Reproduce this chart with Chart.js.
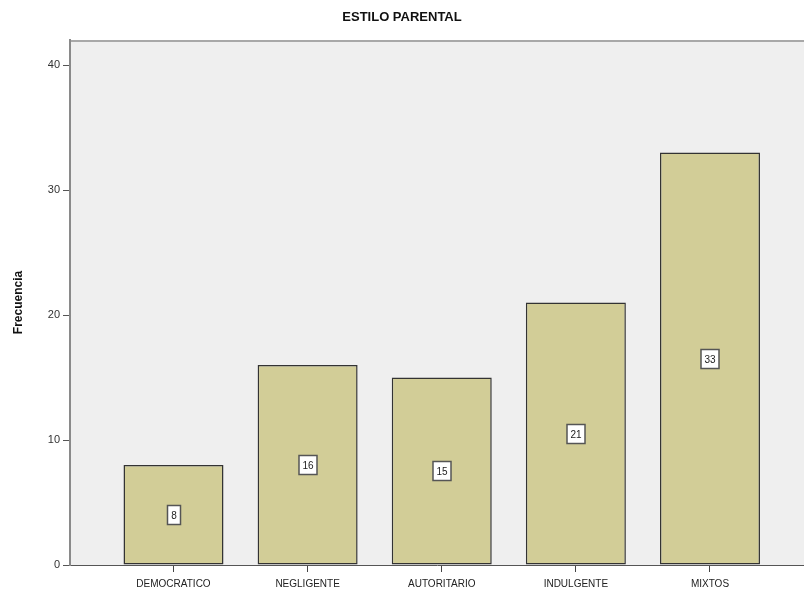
<!DOCTYPE html>
<html>
<head>
<meta charset="utf-8">
<title>Estilo parental</title>
<script src="https://cdn.jsdelivr.net/npm/chart.js@4/dist/chart.umd.min.js"></script>
<style>
    html, body { margin: 0; padding: 0; background: #ffffff; }
    #wrap { width: 804px; height: 592px; }
</style>
</head>
<body>
<div id="wrap"><canvas id="estilo-chart"></canvas></div>
<script>
// Frequency of each parenting style
const categories = ['DEMOCRATICO', 'NEGLIGENTE', 'AUTORITARIO', 'INDULGENTE', 'MIXTOS'];
const frecuencias = [8, 16, 15, 21, 33];
const yTicks = [0, 10, 20, 30, 40];

const FONT = '"Liberation Sans", Arial, sans-serif';

// Grey panel behind the bars plus the top frame line
const panelPlugin = {
    id: 'panel',
    beforeDraw(chart) {
        const { ctx, chartArea: a } = chart;
        ctx.save();
        ctx.fillStyle = '#efefef';
        ctx.fillRect(a.left, a.top, a.right - a.left, a.bottom - a.top);
        ctx.strokeStyle = '#a8a8a8';
        ctx.lineWidth = 2;
        ctx.beginPath();
        ctx.moveTo(a.left, a.top + 1);
        ctx.lineTo(a.right, a.top + 1);
        ctx.stroke();
        ctx.restore();
    }
};

// Boxed value label in the middle of every bar
const valueBoxPlugin = {
    id: 'valueBox',
    afterDatasetsDraw(chart) {
        const { ctx } = chart;
        const meta = chart.getDatasetMeta(0);
        ctx.save();
        ctx.font = '10px ' + FONT;
        ctx.textAlign = 'center';
        ctx.textBaseline = 'middle';
        meta.data.forEach((bar, i) => {
            const text = String(frecuencias[i]);
            const cx = Math.round(bar.x);
            const cy = Math.round((bar.y + bar.base) / 2);
            const w = Math.round(ctx.measureText(text).width) + 7;
            const h = 19;
            ctx.fillStyle = '#ffffff';
            ctx.fillRect(cx - w / 2, cy - h / 2, w, h);
            ctx.strokeStyle = '#555555';
            ctx.lineWidth = 1.5;
            ctx.strokeRect(cx - w / 2, cy - h / 2, w, h);
            ctx.fillStyle = '#222222';
            ctx.fillText(text, cx, cy + 1);
        });
        ctx.restore();
    }
};

const ctx = document.getElementById('estilo-chart').getContext('2d');
new Chart(ctx, {
    type: 'bar',
    data: {
        datasets: [{
            label: 'Frecuencia',
            data: frecuencias.map((v, i) => ({ x: i + 1, y: v })),
            backgroundColor: '#d2cd97',
            borderColor: '#333333',
            borderWidth: 1.5,
            borderSkipped: false,
            categoryPercentage: 1,
            barPercentage: 0.7456
        }]
    },
    options: {
        responsive: true,
        maintainAspectRatio: false,
        animation: false,
        layout: { padding: { top: 0, right: 0, bottom: -4, left: 0 } },
        plugins: {
            legend: { display: false },
            tooltip: { enabled: false },
            title: {
                display: true,
                text: 'ESTILO PARENTAL',
                color: '#111111',
                font: { family: FONT, size: 13, weight: 'bold' },
                padding: { top: 10, bottom: 14.4 }
            }
        },
        scales: {
            x: {
                type: 'linear',
                offset: false,
                min: 0.2283,
                max: 5.701,
                afterBuildTicks(scale) {
                    scale.ticks = categories.map((c, i) => ({ value: i + 1 }));
                },
                grid: {
                    offset: false,
                    drawOnChartArea: false,
                    drawTicks: true,
                    tickLength: 7,
                    color: '#444444',
                    lineWidth: 1
                },
                border: { display: true, color: '#555555', width: 1 },
                ticks: {
                    autoSkip: false,
                    maxRotation: 0,
                    padding: 6,
                    color: '#222222',
                    font: { family: FONT, size: 10 },
                    callback: (v) => categories[v - 1]
                }
            },
            y: {
                min: 0,
                max: 42,
                afterBuildTicks(scale) {
                    scale.ticks = yTicks.map(v => ({ value: v }));
                },
                afterFit(scale) {
                    scale.width = 70;
                },
                grid: {
                    drawOnChartArea: false,
                    drawTicks: true,
                    tickLength: 7,
                    color: '#555555',
                    lineWidth: 1
                },
                border: { display: true, color: '#8a8a8a', width: 2 },
                ticks: {
                    padding: 3,
                    color: '#333333',
                    font: { family: FONT, size: 11 }
                },
                title: {
                    display: true,
                    text: 'Frecuencia',
                    color: '#111111',
                    font: { family: FONT, size: 12, weight: 'bold' },
                    padding: { top: 11, bottom: 0 }
                }
            }
        }
    },
    plugins: [panelPlugin, valueBoxPlugin]
});
</script>
</body>
</html>
